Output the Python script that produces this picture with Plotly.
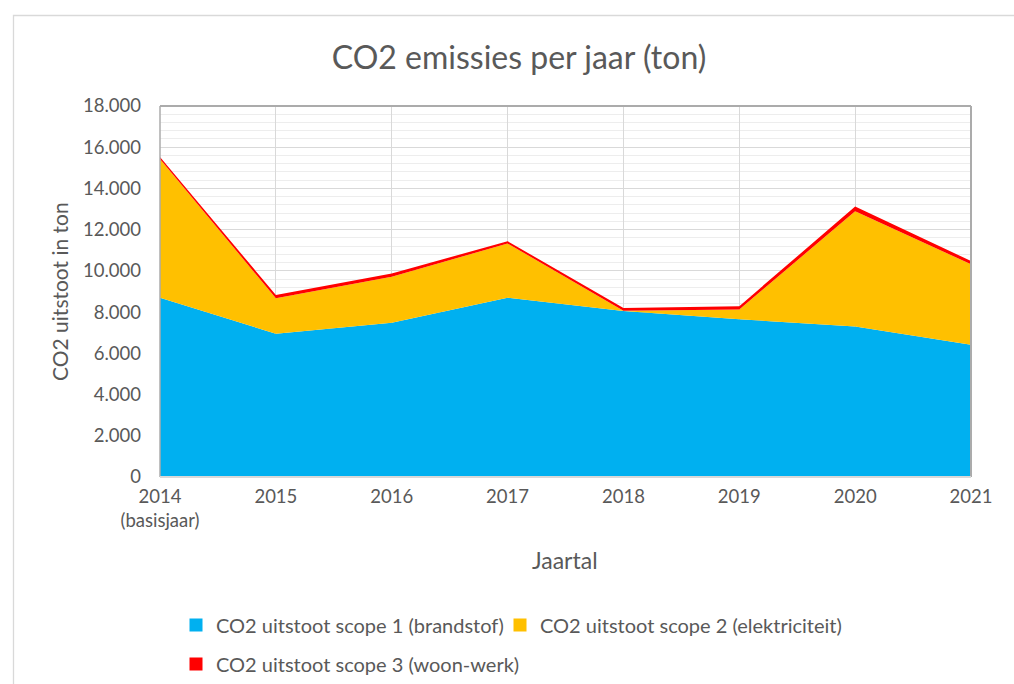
import plotly.graph_objects as go

years = ["2014<br>(basisjaar)", "2015", "2016", "2017", "2018", "2019", "2020", "2021"]
scope1 = [8700, 6950, 7480, 8700, 8050, 7650, 7300, 6420]
scope2 = [6730, 1720, 2230, 2630, 20, 480, 5590, 3900]
scope3 = [100, 160, 160, 110, 130, 160, 230, 160]
names = ["CO2 uitstoot scope 1 (brandstof)",
         "CO2 uitstoot scope 2 (elektriciteit)",
         "CO2 uitstoot scope 3 (woon-werk)"]
colors = ["#00B0F0", "#FFC000", "#FF0000"]
yticks = [0, 2000, 4000, 6000, 8000, 10000, 12000, 14000, 16000, 18000]
yticktext = ["0", "2.000", "4.000", "6.000", "8.000", "10.000", "12.000", "14.000", "16.000", "18.000"]

FONT = "Lato, 'Open Sans', sans-serif"
GREY = "#595959"
xs = list(range(len(years)))

fig = go.Figure()
for vals, nm, col in zip([scope1, scope2, scope3], names, colors):
    fig.add_trace(go.Scatter(
        x=xs, y=vals, name=nm, mode="lines", stackgroup="one",
        line=dict(width=0, color=col), fillcolor=col, showlegend=False,
    ))
legend_ids = ["legend", "legend2", "legend3"]
for nm, col, lg in zip(names, colors, legend_ids):
    fig.add_trace(go.Scatter(
        x=[None], y=[None], name=nm, mode="markers",
        marker=dict(symbol="square", size=13, color=col),
        legend=lg, showlegend=True,
    ))

W, H = 1014, 684
L, R, T, B = 160, 971, 106, 477
pw, ph = R - L, B - T

def px_x(p):
    return (p - L) / pw

def px_y(p):
    return (B - p) / ph

def leg(xpx, ypx):
    return dict(orientation="h", xref="container", yref="container",
                x=xpx / W, xanchor="left", y=1 - ypx / H, yanchor="middle",
                font=dict(size=20, color=GREY), bgcolor="rgba(0,0,0,0)")

fig.update_layout(
    width=W, height=H,
    margin=dict(l=L, r=W - R, t=T, b=H - B),
    paper_bgcolor="white", plot_bgcolor="white",
    font=dict(family=FONT, color=GREY, size=18),
    title=dict(text="CO2 emissies per jaar (ton)", x=519 / W, xanchor="center",
               y=1 - 58 / H, yanchor="middle",
               font=dict(size=32, color=GREY, family=FONT)),
    xaxis=dict(range=[0, 7], tickmode="array", tickvals=xs, ticktext=years,
               showgrid=True, gridcolor="#D9D9D9", gridwidth=1.3,
               showline=False, zeroline=False, ticks="",
               tickfont=dict(size=18.5, color=GREY), ticklabelstandoff=6),
    yaxis=dict(range=[0, 18000], tickmode="array", tickvals=yticks, ticktext=yticktext,
               showgrid=True, gridcolor="#D9D9D9", gridwidth=1.3,
               minor=dict(dtick=400, tick0=0, showgrid=True, gridcolor="#EDEDED", gridwidth=1),
               showline=False, zeroline=False, ticks="",
               tickfont=dict(size=18.5, color=GREY), ticklabelstandoff=18),
    legend=leg(176, 625),
    legend2=leg(500, 625),
    legend3=leg(176, 664),
    annotations=[
        dict(text="Jaartal", x=px_x(565), y=px_y(560), xref="paper", yref="paper",
             showarrow=False, xanchor="center", yanchor="middle",
             font=dict(size=23, color=GREY, family=FONT)),
        dict(text="CO2 uitstoot in ton", x=px_x(59), y=px_y(292), xref="paper", yref="paper",
             showarrow=False, xanchor="center", yanchor="middle", textangle=-90,
             font=dict(size=21, color=GREY, family=FONT)),
    ],
    shapes=[
        dict(type="rect", xref="paper", yref="paper", x0=px_x(13.5), x1=px_x(1030),
             y0=px_y(700), y1=px_y(15.5), line=dict(color="#D9D9D9", width=1.3), layer="below"),
        dict(type="line", xref="paper", yref="paper", x0=0, x1=1, y0=1, y1=1,
             line=dict(color="#ABABAB", width=2), layer="above"),
        dict(type="line", xref="paper", yref="paper", x0=0, x1=0, y0=0, y1=1,
             line=dict(color="#ABABAB", width=1.5), layer="above"),
        dict(type="line", xref="paper", yref="paper", x0=1, x1=1, y0=0, y1=1,
             line=dict(color="#ABABAB", width=2), layer="above"),
        dict(type="line", xref="paper", yref="paper", x0=0, x1=1, y0=0, y1=0,
             line=dict(color="#D9D9D9", width=2), layer="above"),
    ],
)

fig.write_html("out.html", config={"displayModeBar": False},
               post_script="document.body.style.margin='0';document.body.style.padding='0';")
